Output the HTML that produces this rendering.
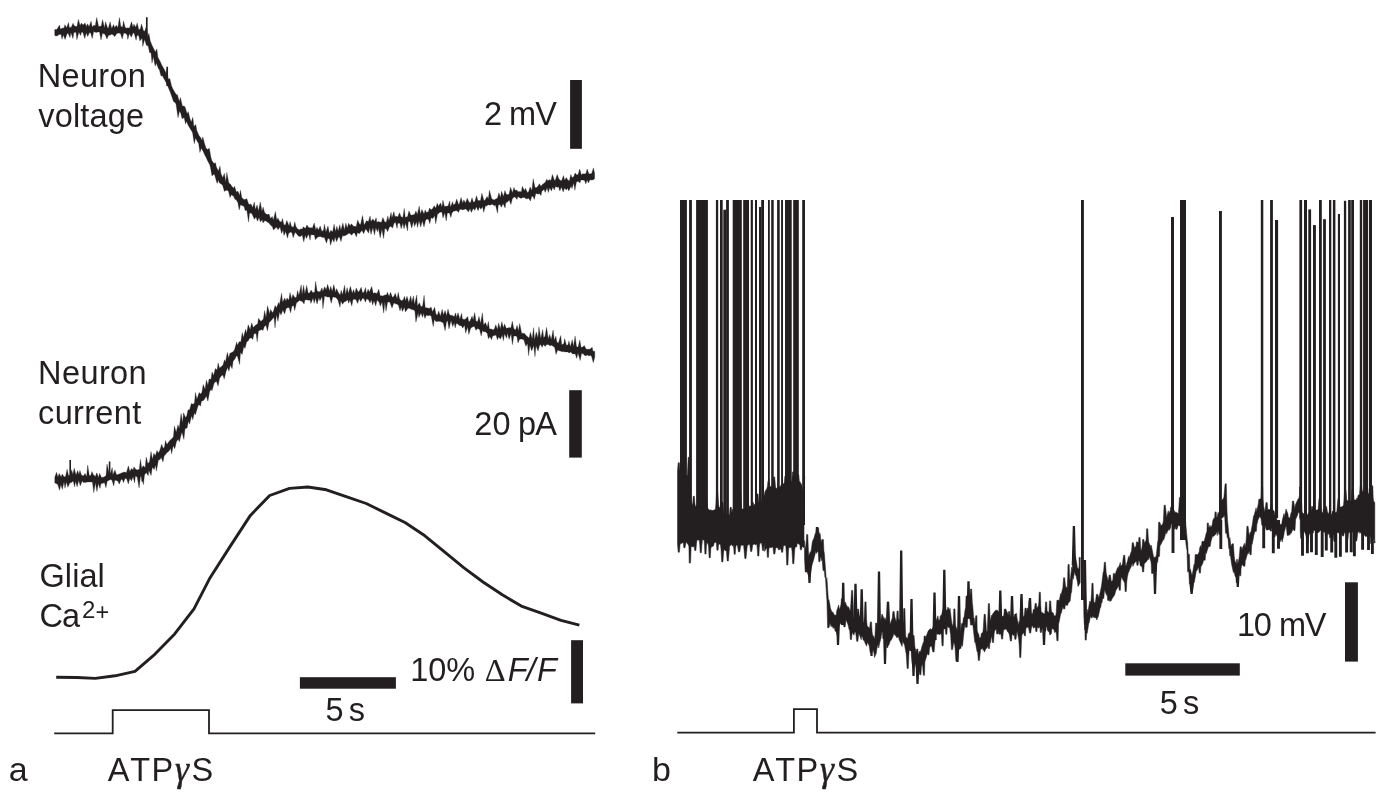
<!DOCTYPE html>
<html><head><meta charset="utf-8"><title>figure</title>
<style>html,body{margin:0;padding:0;background:#fff}svg{display:block;will-change:transform}</style></head>
<body>
<svg width="1399" height="811" viewBox="0 0 1399 811">
<g fill="none" stroke="#231f20" stroke-linejoin="miter" stroke-miterlimit="3">
<path fill="#231f20" stroke-width="0.3" d="M54.7 29.6L56.6 29.4L57.4 28.6L59.6 25.1L60.3 28.9L62.4 28.2L64 27.9L64.9 24.7L66.6 27.7L68.5 22.5L69.3 27.4L71.3 27.2L73 23.2L74.2 25.8L75.9 26.6L77 26.2L78.4 19.4L80.1 25.4L81.4 23.1L83.1 25.1L85.1 22.9L86.3 26.5L87.6 23.8L89 26.7L91.1 21.2L92.2 27L94.1 25.1L95.2 25.9L96.7 17.5L98.6 26.4L99.9 26.2L101.3 26L102.6 19.7L104.5 27.7L105.6 21.7L107.6 28.1L108.3 28.3L110.1 21.8L111.7 28.6L113.6 24.6L114.5 27.5L116.5 25.3L117.9 27.8L119.4 17.5L120.8 26.3L122.6 27.2L123.5 20.8L125.1 27.2L126.4 28.2L127.8 27.7L129.4 28.2L131.6 21.7L133 27.2L133.9 24.2L135.8 27.2L137.2 22.9L138.8 29.7L140.3 29.1L141.5 23.9L143.6 31L144.7 31.2L146.3 26.6L147.8 36.4L148.9 33.3L150.3 41.1L152.1 45.4L153.9 49L155.5 51.9L156.9 48.9L157.9 57.2L160.1 61.3L161.5 64.4L163 67.2L164.2 69.2L166.1 73.2L166.8 69.4L168.3 79.2L169.8 78.4L171.5 85.7L173 89.2L174.4 91.6L176.3 94.8L177.3 94.5L179.3 101.5L180.4 97.4L182.4 106L183.3 106L185 106.7L187.1 113.8L188.2 111.6L190 118.8L191.3 122.1L192.8 117.3L193.9 126.5L195.8 124.5L196.8 130.4L199 135.5L200.6 137.6L202 140.3L202.8 136.8L204.6 143.8L206 147.9L207.4 149.6L209.3 148.2L211 157.7L212 160.8L214 163.5L215.5 162.7L216.4 167.1L218.4 170.9L220 166L220.9 173.4L222.8 177.8L224.3 173.3L225.8 182.1L226.8 172.4L228.8 182.9L230.3 184.1L232 186.6L233.5 188.2L234.5 186.2L236.4 191.9L238 191.2L239.6 195.5L240.4 190.1L241.8 197.4L243.8 199.6L244.9 199.4L246.8 198.7L248.6 204L249.6 204.4L251 203.9L252.7 207.5L254.3 202.1L255.3 209.5L257.1 205.1L258.4 211L260.3 202L262 211.5L263.1 207.1L264.6 212.5L266.2 214L267.4 214.6L269 214.1L270.5 218.5L272.2 216.4L273.3 220.3L275.4 211.4L276.8 220.1L278 218.1L279.3 220.9L281.4 222.3L282.4 218.4L283.9 224.7L285.4 225L286.8 220.4L289.1 226L290 221.5L291.5 226.5L293.5 227.2L294.8 221.7L295.9 226.5L297.6 229L299.5 229.7L300.6 229L302.4 229.1L303.3 226.8L305.4 228.6L306.9 225.1L308.5 227.2L309.9 228L311.1 227.5L312.3 228.2L314.2 223L315.9 229.9L316.9 227.2L318.5 229.9L320.2 226L321.9 231.5L323.6 230L324.4 224.2L325.9 231.9L328 225.9L329.3 233.2L330.9 230.2L332.6 232L334.1 224.2L335.5 231.5L336.9 226.2L338.1 231.2L339.8 224.7L340.9 230.2L342.9 223.1L344.4 229.9L345.9 223.1L347.2 228.3L348.6 223.2L350.1 225.7L351.3 223.8L353.5 226.3L354.7 226.3L356.1 226.7L357.7 220L359.4 224.1L360.6 224.5L362.5 215.5L364.1 224.7L365.1 223.5L366.4 220.8L368.4 221.4L370.1 216L370.9 221.6L372.9 218.9L374.5 221.5L376.1 217.8L376.9 222.5L378.3 221.6L380.6 222.3L381.4 222.3L382.9 217.6L384.8 222.1L386.2 222.2L387.9 215.9L388.9 221.1L391.1 212.4L391.9 218.1L393.9 211.6L394.8 216.4L396.7 216.2L397.8 216.9L399.5 212.8L401 216.7L402.9 217.4L404.2 208.4L405.3 217.5L407.6 216.5L409 210.8L410.6 214.7L411.5 215.3L413.1 214.7L414.5 214.4L415.9 210.9L417.3 214.6L419.2 206L420.4 214.2L421.9 209.5L424 213.9L425.2 209.9L426.4 212.5L428.4 211.7L429.5 208L431.2 209.7L432.5 208.8L434.2 205.8L435.8 208.3L437.2 203.2L438.6 206.2L440.5 202.9L442 207L442.9 200.2L444.4 206.5L445.9 206.2L448.1 206L449.6 200.9L450.5 207.2L452.6 201.7L453.4 204.9L455.2 203.8L456.7 199.1L458.6 204.4L459.3 204L461 197.4L462.8 203.2L463.8 199.8L465.5 202.9L467.2 198.3L469 202L470.4 203L472 197.8L473.4 202.3L474.9 201.5L476.5 195.8L477.9 200.4L479.4 200.5L480.5 200.4L481.9 193.3L483.9 200.6L484.9 200.3L487.1 196.4L488.3 198.9L489.5 190.2L491.6 198.6L492.4 199.2L494.2 199.9L495.3 199.3L497.6 197.9L498.8 192.8L500.5 197.6L501.5 191.3L503.5 196.4L504.9 190.6L506.3 194.3L508.1 194.8L509.1 193.7L510.6 187.2L512.4 192.7L514 187.4L515.1 190.4L516.9 190.1L517.9 191.8L519.7 191.4L521.4 191.8L522.3 186.3L524.4 190.7L525.3 188.2L527.6 192.7L528.7 191.4L530.1 186.9L531.9 190.5L533.2 178.7L534.9 186.9L535.8 188.1L537.8 186.4L539.3 183.8L541.1 186.5L541.8 185L543.7 183.5L545.3 182.2L546.7 179.2L547.8 180.8L549.8 179.5L550.9 180.7L552.4 174.4L554.5 180.5L555.4 179.9L557.2 174.4L558.9 179.1L560.4 180.4L561.7 180.4L563.5 175.6L564.7 180.3L566.3 177.5L568 180.2L569.4 180.7L570.8 174.4L572.1 177.8L573.8 176.6L575.1 173L576.9 174.9L578.1 174.5L579.7 169.1L581.4 174.9L582.7 173.7L584.1 173.9L586 173.6L587.1 169L589 173.9L590.5 173.7L591.7 173.4L593.4 167.9L594.6 173.1L594.6 178.7L593.5 179.7L591.5 180.1L589.9 179.8L588.5 183L587.1 180.1L585.8 184L584.6 180.6L583 180L580.8 179.9L580 183L578.1 181.3L576.4 182L574.9 190.3L573.7 183L572 188.6L571.1 185.9L568.8 190.9L567.4 188L566.4 190L564.5 188.1L563.2 192L561.4 187L559.8 191L558.6 187.1L557.3 187.2L555.4 186.4L554.4 190L552.8 187L551.5 191.1L549.7 187.7L548.3 192.6L547.1 187.8L545.1 192.4L544.1 189.2L541.8 191.5L541 195.6L539.3 193.4L538 194.2L535.9 193.3L534.3 199.5L533.1 196.4L531.8 196.3L530.4 201L528.7 198.3L527.3 198.8L525.9 198.8L524.6 197.4L522.7 197.4L521 198.5L519.3 197.4L517.9 196.6L517 199.5L514.9 196.8L513.6 197.6L512.4 198.6L510.9 204.6L509.3 200L507.5 202.1L505.8 202.7L505.1 208L503 203.5L501.4 207.3L500 204.5L498.3 205L497.5 213.2L495.5 205.1L494.5 205.8L492.7 204.5L491.3 204.4L490.1 205.2L488.2 204.7L486.5 206L485.5 205.7L483.7 212.3L482.6 206.8L480.8 209.3L479.5 207L478.1 210.7L476.3 206.7L474.9 210.2L473.2 208.6L471.3 212.4L470.1 208.5L468.4 212.1L467 210.1L465.7 208.9L463.9 209.4L462.7 209.9L461.1 209.3L459.7 209.6L458.5 212.5L457.1 210.7L455.5 210.8L453.5 211.3L451.9 213L450.9 217.6L449.4 212.9L447.4 212.9L446.2 221L444.8 212.8L443 218.1L441.9 212.1L439.9 212.2L438.4 213.7L437.6 213.7L435.7 223.7L434.6 215.4L432.9 218.5L431.1 217.8L429.8 223.7L428.4 219.2L426.5 219.2L425.5 220.4L424 227L422.3 220.7L420.7 227L419 220.4L417.5 227.4L416.5 221.7L414.5 226.5L413.5 221.3L411.7 228L410 221.6L408.3 221.7L407.5 231.1L405.7 223.1L404 228.8L402.9 223.1L401.2 228.8L399.9 223.3L397.8 223.3L397.1 228.4L395.4 222L394 223.5L392.6 228.1L390.7 226.3L389.3 227.2L387.6 231.7L386.3 228.8L384.8 228.7L383.6 238.6L381.9 229.3L380.2 237.8L378.3 227.7L377.6 231.7L375.8 227.8L374.5 234.9L372.9 227.4L371 234.4L369.7 227.4L368.6 233.2L366.3 229.5L365.4 229.3L363.7 233.7L362 230.4L361.1 231.5L359.3 233.8L357.6 232.6L356.3 236.9L354.7 233L353.4 232.9L351.6 235.3L350 233.5L348.8 233.2L347.1 234.6L345.9 235.2L343.8 236.1L342.5 235.6L341 241.5L339.3 236.7L338.1 237.7L336.6 241.7L335.1 237.1L334 242.3L332.5 238.7L330.5 245.2L329.6 239L327.9 238.3L326.5 243.2L324.3 237.3L323.2 237.5L322 237.2L320.4 236.5L318.6 236.7L317.5 237.2L315.4 239.7L314.2 234.8L313.1 234.9L310.8 234.8L310.1 240.2L308.6 234.1L306.3 238.5L305.2 235.1L303.8 241.9L302.2 235.1L300.5 236.4L299.3 236.4L297.9 235.5L296.1 233.2L295.1 232.3L293.2 237.8L292 232.8L290.5 232.1L288.6 233.4L287.5 238.2L285.7 231.6L284 235.5L282.9 229.8L281.6 233.5L280 227L278 229.8L276.5 227.1L275.6 228L273.3 229.9L272.5 226.7L270.9 225.5L269.1 223.2L267.3 222L265.9 221L264.7 220.7L263 222.9L262.1 219.6L260.4 222.1L259.1 217.6L257.5 221.2L256 217.1L254.4 219.3L252.4 214.8L251.5 213.3L249.5 213L248.6 222.1L246.8 210.2L245.1 210.6L244.1 206.6L242.1 205.6L240.5 204.7L239.2 210L237.9 202.8L236.1 199.6L235 199.4L233.6 196.2L231.4 194.8L230 197.6L228.5 191.2L227.1 190.3L225.5 190.4L224.4 191.5L222.7 185.5L221.3 184.1L219.4 182.9L218.5 180.1L217.1 183.4L214.8 175.4L214 174L212 176L210.3 166.7L209.6 164.5L207.7 160.9L205.9 157L205.1 155.7L203.1 151.2L201.3 148.2L199.9 152.5L198.6 143.3L197.6 142L195.5 137.9L194.3 143.8L192.5 132.4L191.3 130.5L190 128.4L187.8 124.4L186.6 121.2L185.6 124.1L184.1 117.6L182.1 118.8L180.8 113.6L179.6 110.9L178 117.7L176 104.1L175 102.5L173.5 101.5L171.6 96L170.4 92.4L169.1 89.4L166.8 84.1L165.7 81.8L163.8 78.5L162.4 75.8L161 76L159.3 69.6L158.6 68.9L156.3 63.1L155.2 66.2L153.3 56.7L152 63.1L151 52.7L149.6 52.7L148.1 45.8L146.5 45.6L144.6 39.6L142.8 46.4L142.1 38.2L139.8 40.9L138.8 35.7L137.1 35.2L136.1 40.3L134 32.7L132.8 33.6L131.3 37.2L129.4 33.5L127.8 39.4L127.1 34.7L125 33L123.6 33.6L122.2 38.9L120.6 33.7L119.5 33.3L118.1 32.9L116.4 34L114.7 36.7L113.1 34.7L111.5 34.2L110 35.3L108.7 35.1L106.9 39L105.4 34.9L104.5 34.1L102.5 33.3L101 40.1L99.5 32.1L97.9 31.9L96.6 32.4L95.2 32.2L93.7 31.5L92.2 38.5L90.7 32.9L89.5 32.6L87.7 36.6L86.2 32.8L84.8 38.4L82.8 32.3L81.5 32.3L80.5 35.5L78.9 32L76.9 39.8L76 32.2L73.9 32.4L72.9 38.5L70.9 32.5L70 37.6L67.9 33.1L66.8 34.5L65.1 39.5L63.3 34.9L62 39.3L61.1 34.4L59 34.6L57.5 35.8L55.8 36L54.7 35.2Z"/>
<path stroke-width="1.7" d="M146.8 17.2V42M167.2 66.7V86"/>
<path fill="#231f20" stroke-width="0.3" d="M54.8 477.3L56.5 472.2L57.9 476.9L59.2 473.5L61.1 476.9L62.2 474.1L64.2 477L65.6 476.2L67.1 469.2L68.6 475.8L70.2 475.1L71.7 469.7L72.8 474.5L74.2 468.2L76 475L77.7 470.5L78.9 474.6L79.9 470.4L81.4 475.1L83.3 476L85.1 473.4L86.6 476.8L87.7 465.1L89.3 475.5L90.8 475.6L91.9 471.5L93.4 474.8L95.3 476.4L96.8 472.8L98.6 477.6L99.5 473.2L101.6 477.5L102.6 477.4L104.3 476.7L106 475.7L107 464.1L109.2 473.4L110.7 472.8L112.2 467.6L112.9 474.7L114.9 470.1L116.5 474.7L118.1 474.6L119 474L120.5 473.4L122.6 472.5L123.6 472.2L124.9 472.1L126.4 472.7L128.4 465.8L129.8 471.4L131.5 468.4L133.1 469.9L133.9 466.9L136.2 469.7L137.6 469.8L139.2 469.4L140.5 459.3L141.7 468.4L143.1 465.7L145.2 467.5L146.2 457L147.8 463.5L149.5 462L151 451.5L152.5 459.3L153.9 453.3L155.3 455.8L157 450.4L158.2 452.9L159.6 450.9L161.7 444.3L163.1 448.2L164.5 447.1L165.5 440.6L166.9 444.6L169.2 441.3L170.7 439.6L171.6 439L173.4 436.7L174.4 425.9L176.2 432.2L178 424.8L179.2 428.6L181.1 413.5L182.7 422.7L183.5 412.8L185.5 417.6L186.7 415.9L188 410L189.7 409.5L191.3 403.6L193.2 404.3L194.5 402.7L195.4 392.4L196.9 399.2L199.2 392.4L200.4 393.9L201.9 392.5L203.2 384.5L205.1 389.2L206.4 380.1L207.9 385.2L209.1 379.1L211 379.2L212 371.9L213.5 375.5L215.4 368.5L217.1 369.9L218.1 362.9L219.6 368.2L221 366.8L222.9 365.3L224.5 359.7L225.5 362L227.3 352.4L228.8 358L229.9 353.3L231.8 352.4L233.1 351.8L234.5 349.7L236.7 342L237.4 345.3L239.2 341.7L240.9 341.7L242.2 332.6L243.4 337.5L245.6 329.3L246.6 333.4L248.2 324.7L250.2 329.5L251.7 322.8L253.2 327.6L254.2 326.4L256 324.8L257.6 323.9L258.5 318.3L260.7 321.3L261.4 321L263.4 319L264.6 310.6L266 317.6L267.5 305.7L269.7 314L270.5 309.4L272.7 312.7L273.5 311.1L275.1 305.5L276.5 307.7L278.7 302.3L279.4 304.9L281.6 293.2L282.6 302.2L284.7 297.9L286 301.1L287.1 297.9L288.8 300.3L290 292.5L291.7 299L292.9 294.5L295 297.8L296.4 297.3L297.6 290.6L298.9 295.5L301.2 284.8L302 294.8L303.6 285.2L304.9 294L306.7 285.4L308.2 293.3L309.8 292.7L311.1 290L312.6 292.5L314.6 292.3L315.6 281.3L317.1 291L318.8 291.7L320.1 291.7L322 287.8L322.9 291.6L324.6 286.7L326.2 289.8L327.6 284.3L329.6 291L330.7 286.2L332.2 291.6L333.8 284.6L335.6 292.5L336.5 288.6L338.6 293.1L340.2 294.9L341.1 290.2L342.5 294.8L344.6 285.2L345.6 294.7L347.1 287.6L348.4 293.6L350.4 286.3L352.2 293.3L353.6 289.5L354.9 293.6L356.2 287.9L358.2 292.1L359.4 291.1L361.2 287.2L362.5 292.8L364 292.2L365.5 287.5L366.5 293.7L368.1 289.2L369.4 292L371.7 286.5L373.2 293.6L374.4 292.8L375.5 293L377 293.4L378.8 289.2L380.2 295.8L381.5 295.8L382.9 295.9L384.9 295L386.6 294.7L387.4 292.3L389.1 296.3L390.6 292.3L392.3 297.3L393.9 296.6L395.2 293.2L397.1 298.8L398.2 292.3L399.6 299.1L401.5 300.8L403.1 299.9L404.6 296.3L405.5 300.9L407 296.3L408.8 302.6L410.7 295.9L411.9 302.2L413.4 295.8L414.6 304.4L416.7 295L417.5 306L419.4 302.7L421 306.8L422.6 306L424.1 295.3L425.2 307.8L426.6 307.8L428.7 308.3L429.8 308.3L431.1 306.9L432.5 311.8L434.6 307.3L436.1 314.4L437.4 315.1L438.7 310.9L440.4 316.2L442.2 309.3L443.4 314.9L445.1 310.5L446.6 315.7L448 309.1L449.3 314.2L450.5 315.3L452.5 315.4L454.1 316.8L455.7 312.8L456.5 317.6L458 312.7L459.9 319.2L461.6 313.2L462.4 318.9L464.4 319.6L465.6 318.9L467.7 316.5L468.7 321.6L469.9 321.2L472.1 316.1L473.1 320L474.7 312.6L476 321.2L477.6 321.6L479 316.4L480.6 323.4L482.4 312.8L483.6 325L485.5 322.5L487.2 327L488.4 321.5L489.4 329.1L491.7 328.9L492.5 329.9L494.2 329.3L495.8 324.7L497.4 329.5L498.7 322.9L500.2 329L501.9 321.7L503.3 328L504.6 323.9L506.2 328.3L507.7 328.1L509.1 327.5L510.9 327.9L512.3 321.2L513.7 328.3L515.5 330.2L517.1 325.3L518.4 331L519.7 323.4L521.7 333.5L522.4 333.2L524.6 333.4L525.7 334.9L527.2 336.5L529.1 338L530.4 332.2L532.2 338.7L533.6 327.6L534.5 339.7L536.3 332L538 338L538.9 326.9L540.8 338.4L542.7 329.6L543.6 337.4L545 336.5L546.6 327.3L548.2 339L549.6 334.5L551.2 339.5L553.1 330L554.3 340.3L555.9 336.2L556.9 342.3L558.4 342.9L560.7 335.5L561.7 344.5L563.7 344L564.7 338.6L566.4 345.2L567.9 344.9L568.9 340.9L570.4 346.7L572.2 339.7L573.5 346.5L575.1 335.9L576.5 346.6L578.1 347.2L579.8 340L581.1 347.5L582.7 347L584.3 345.6L586 348.9L586.9 349.3L589.2 349.2L590.2 348.9L592.2 347.3L592.9 351.1L594.8 351.4L594.8 357L593.3 362.7L591.7 356.8L590.6 355.3L589.1 355.9L587.5 355.1L585.8 355.7L584.4 355.3L583.2 353.8L581.5 353.6L580.2 360.6L578 352.9L576.7 358.4L575.2 353.7L574.2 353.9L572.7 353.9L570.6 352.1L569.2 353.1L567.7 352L566.6 351.9L565 351.9L563.5 351.4L562 351.8L560.4 351.1L559.1 350.7L557.7 350L556 354.4L554.7 347.6L552.8 346L551.5 345.3L550.1 345.7L548.1 344.6L546.7 344.5L545.2 346.5L543.5 344.4L542.1 347.3L540.6 344.5L539.5 345.6L538.1 351.1L536 345.7L535 356.8L533.7 345.6L531.7 350.9L529.9 345.3L528.6 355.7L527.5 343.5L525.8 346.2L523.9 340.1L523.1 339.5L521.6 339L519.6 339.2L518 343L516.9 336.4L515.6 336.1L513.7 336.1L512.4 344.7L511.1 333.7L509.1 339.3L507.4 333L506.7 338.3L504.5 333.8L503.4 340.7L502.2 335.1L500.5 339L498.4 337L497.5 339.9L496 335.1L494.4 335.6L492.6 336L491.6 339.7L489.9 336.5L488.4 338.8L487.2 333.2L484.9 331.4L483.9 332.1L482.5 330.5L481.2 336.1L479.6 329.5L477.7 328.6L475.9 330.3L474.4 326.6L473.5 326.5L471.9 327.2L470.6 328.6L468.8 334.5L467.7 327.1L465.6 333.1L464.6 325.3L462.6 328.2L461.7 325.9L459.4 325.4L458.1 324.3L456.4 323.2L455.2 327.9L454.2 322.7L452.7 326.6L451 320.6L449 328.9L447.6 320.8L446.5 321.8L445.1 330.7L443.2 322.4L442.2 322.6L440.7 321.5L438.6 321.3L437 321.5L435.9 321.4L434.4 319.4L433.2 326.6L431.3 316.4L430 315.3L427.9 315.8L426.4 315L424.9 318.4L423.6 313.2L422.6 317.3L421 313.1L418.9 317.6L418.2 312.7L415.9 322.2L414.9 311L413 309.6L412.2 309.8L409.9 308.6L408.5 308.2L407.6 308.8L405.4 312L404.4 307.3L402.4 311.5L401.2 307L400 310.9L398.5 305.3L397.1 304.2L395.6 303.8L393.9 303L392 308L390.4 303.7L389.7 302.1L387.6 302L386 311.3L384.9 301.8L383.7 313.1L382 301.9L380.3 306.2L379.1 302.3L377.1 300.1L375.7 305.9L374 300.4L372.6 305.1L371.3 299.5L370 302.9L368.5 299.7L366.6 298.8L365.5 302.2L364.1 299L362.7 298.1L360.7 301.6L359.1 298.4L357.7 303.5L355.9 299.6L354.4 299.3L353 299.4L351.8 305.9L349.9 299.7L348.7 303.3L347.6 299.8L345.7 301.4L344.7 301.4L342.4 304.3L340.9 300.7L340 307.3L338.1 300.4L336.7 298.2L335.6 297.4L333.5 296.9L332.7 297.2L331.2 303.3L329.7 296.9L327.4 297.1L326.1 296.5L324.6 296L322.9 308.7L322.1 296.6L319.9 300.8L318.9 297.6L317.1 304.1L315.4 298L314.2 303.3L313 298L310.9 303.4L310.1 300.1L308.4 300.2L306.7 299.7L304.9 300L304.1 303.9L301.9 301.1L301 301.2L299.5 300.3L297.8 302.1L296.5 302.8L294.7 310.6L293.6 305.6L291.9 306.2L290.6 312.8L289.1 307.4L287.3 307.8L286.1 308.8L284.6 314L282.9 310.1L281 315.1L279.6 312.1L278 321.2L276.4 314.8L275 328L274 317.3L272 319.5L270.5 321.3L269.1 322.6L267.4 330.9L266.1 325.5L264.6 326.1L262.9 330.6L261.7 329.4L260.6 330.1L258.4 331L257.2 341.8L256.1 333.4L254 333.8L252.8 339.5L251.4 337.7L249.4 338.5L248.2 340.9L246.7 341.7L245 348.4L243.8 346.5L242.2 354.5L240.5 352.5L239.6 364.5L237.4 356L236 356.3L235.2 358.5L233.1 361.2L232.1 368.7L230.4 365.1L228.9 371.3L227.7 367.5L226.1 371.3L224.2 379.1L222.9 374.9L221.5 375.7L219.6 378.2L218.1 386L216.4 381.3L215 382.3L214.1 383.3L212 390.8L211.2 389.3L209.6 391.7L207.9 401.2L206.3 396.1L204.7 398.8L203.5 400.4L201.4 401.3L200.6 406.1L198.8 404.6L197.7 407.1L195.4 414.8L194.3 413.1L192.8 419.8L191.6 415.7L189.5 424.2L188.4 421.1L187.1 428L185 428.8L183.9 439.4L182 432.3L181.1 435L179.4 441.8L178.2 439.3L176.5 441.4L174.8 448.7L173.2 445.8L171.6 453.9L170.7 448.4L168.6 451.4L167.1 452.5L165.5 454.6L164.1 456.1L163 461.9L161.1 457.3L160.1 459.6L158.4 459.9L156.4 471.2L155.6 465.1L154.2 469.5L152.3 467.3L151.1 475.5L148.9 470.3L148.2 475.7L146.3 472.6L144.5 474.9L143.4 484.7L141.4 476.6L140.5 476.5L139.1 488.1L137.2 476.9L135.4 476L134.6 483L133.1 476.8L131.4 480.9L129.9 478.3L128.3 484.1L126.7 478.7L125 478.5L123.4 482.7L122.6 479.9L121.2 479.3L119.3 484.2L118.1 481.5L116.6 480.5L114.8 480.2L113.7 486.1L112.1 480.5L110.7 479.2L108.4 480.7L107.2 481L106 487.8L104.4 482.6L103 483.2L101 483.6L100 488.4L98.4 483.4L96.9 491.5L95.4 482.8L93.8 492.7L92.4 482L90.4 481.9L89.3 481.9L87.6 482.1L86.4 482.3L84.6 482.6L83.4 482.4L82.2 480.9L80.3 485.8L78.7 480.4L77.2 486.8L75.5 481.3L74.7 486.9L73.1 480.9L71.2 482.7L69.9 482.8L67.9 487.3L66.4 482.1L65 488.3L64 481.8L62.3 489.4L60.9 484.6L59.5 490.3L57.8 484.6L56.1 483.6L54.8 482.9Z"/>
<path stroke-width="1.6" d="M70.2 460V480M109.6 461.5V480M142.3 470V481.6"/>
<path stroke-width="2.9" stroke-linejoin="round" d="M56.2 677.3L76.9 677.5L95.3 678.4L115.1 675.8L135 671.3L154.8 654.3L174.7 633.9L194 608.9L210.1 577.7L230 546.6L250.4 515.4L269.7 495.5L289.5 488.4L307.9 487L326.4 489.8L346.9 496.9L366.2 503.5L385.8 513.1L405 522.5L424.9 535.8L444.8 552.2L464 567.8L483 582L502.3 594.8L521.3 606.1L541.2 613.2L561 620.3L579.4 625.1"/>
<path stroke-width="1.8" d="M54.2 733.4H112.7V710.1H209V733.4H595.2"/>
<path stroke-width="1.8" d="M677.3 732.7H793.9V709.2H817V732.7H1375.6"/>
</g>
<g fill="#231f20">
<rect x="570.1" y="80" width="11.8" height="68.8"/>
<rect x="569.2" y="390.2" width="12.6" height="67.4"/>
<rect x="571.1" y="640.2" width="11.9" height="63.2"/>
<rect x="299.9" y="677.2" width="96" height="11.5"/>
<rect x="1345" y="582.3" width="12.9" height="79.3"/>
<rect x="1125.3" y="663.3" width="114.5" height="12.3"/>
</g>
<g fill="#231f20">
<rect x="680" y="200" width="6.9" height="325"/>
<rect x="689.1" y="200" width="2.8" height="325"/>
<rect x="696.1" y="200" width="11.8" height="325"/>
<rect x="715.9" y="200" width="2.3" height="325"/>
<rect x="720" y="200" width="2.7" height="325"/>
<rect x="723.3" y="209.7" width="2.9" height="315.3"/>
<rect x="726.1" y="200" width="2.8" height="325"/>
<rect x="732.7" y="200" width="9.1" height="325"/>
<rect x="743.2" y="200" width="5.8" height="325"/>
<rect x="750.7" y="200" width="2.2" height="325"/>
<rect x="755" y="200" width="2" height="325"/>
<rect x="759" y="207" width="2.3" height="318"/>
<rect x="761.2" y="200" width="2.8" height="325"/>
<rect x="768" y="200" width="1.8" height="325"/>
<rect x="771.2" y="200" width="2.5" height="325"/>
<rect x="777.1" y="200" width="2.6" height="325"/>
<rect x="781.1" y="200" width="1.9" height="325"/>
<rect x="785" y="200" width="6.7" height="325"/>
<rect x="793.2" y="200" width="5.6" height="325"/>
<rect x="802.2" y="200" width="2.8" height="325"/>
<rect x="1081" y="200" width="2.9" height="400"/>
<rect x="1171" y="217" width="3" height="301"/>
<rect x="1180" y="200" width="6" height="340"/>
<rect x="1219" y="211" width="2.9" height="307"/>
<rect x="1260.8" y="200" width="2.5" height="318"/>
<rect x="1270.1" y="200" width="2.8" height="318"/>
<rect x="1275" y="220" width="3.1" height="298"/>
<rect x="1299.4" y="200" width="2.7" height="318"/>
<rect x="1304" y="200" width="3" height="318"/>
<rect x="1308.3" y="209.4" width="2.8" height="308.6"/>
<rect x="1313" y="225.1" width="2.9" height="292.9"/>
<rect x="1319" y="200" width="2.8" height="318"/>
<rect x="1323.1" y="219.2" width="2.8" height="298.8"/>
<rect x="1329" y="200" width="2.3" height="318"/>
<rect x="1332.9" y="200" width="2.5" height="318"/>
<rect x="1337.9" y="214" width="2.1" height="304"/>
<rect x="1343.9" y="200.8" width="2.3" height="317.2"/>
<rect x="1348.1" y="200" width="2.7" height="318"/>
<rect x="1351.2" y="200" width="2.8" height="318"/>
<rect x="1359.8" y="200" width="2.4" height="318"/>
<rect x="1363.1" y="200" width="5" height="318"/>
<rect x="1369" y="200" width="3" height="318"/>
</g>
<g fill="none" stroke="#231f20" stroke-linejoin="miter" stroke-miterlimit="2">
<path fill="#231f20" stroke-width="0.5" d="M677.5 470.6L678.2 462.7L679.4 462.7L680 470.9L680.5 470.9L681.6 469.9L682.1 471.2L682.5 465.6L683.7 465.6L684.2 471.8L684.6 473.8L687.3 475.5L687.7 467.7L688.2 457.2L689.4 457.2L690 479.1L690.4 498.9L692.3 504.3L692.7 504.7L693.2 496.3L694.4 496.3L694.9 503.2L695.4 506.5L697.1 505.3L697.6 504.6L698.2 499.2L699.4 499.2L700 505.1L700.4 507L701.9 508L702.4 504.7L704.8 505.2L705.2 507.1L705.9 502.3L707.1 502.3L707.7 508.4L708.1 508.6L709.6 510.2L710.1 509.9L711.4 509.9L711.9 510.8L713.3 510.1L713.8 510.2L715.5 509.2L715.9 503.8L716.6 492.5L717.8 492.5L718.5 503.8L719 506.9L720.6 507.9L721 508.5L721.7 502.2L722.9 502.2L723.5 511.1L723.9 513.5L726.6 515.1L727.1 514.7L729 514.7L729.4 515L730.1 507.3L731.3 507.3L732 512.9L732.4 509.6L733.6 508.4L734.1 511.3L736.2 510.9L736.7 505.9L738.5 505.6L739 503.2L739.6 491.4L740.8 491.4L741.3 503.2L741.8 509.1L743.9 509.1L744.4 510.4L746.3 510.2L746.7 505.8L747.1 498.6L748.3 498.6L748.6 504.5L749.1 506.3L751.1 506L751.6 506L752.1 502.5L753.3 502.5L753.9 505.7L754.3 504.6L755.7 503.8L756.2 502.1L756.9 493.9L758.1 493.9L758.7 500.9L759.2 503.9L761.5 503.1L762 498.4L764.4 495.1L764.9 491.8L767 488.3L767.5 485.7L768 480.7L769.2 480.7L769.8 486.2L770.2 486.8L772.4 485.9L772.9 483.9L773.5 476.9L774.7 476.9L775.3 484.3L775.7 487.9L777.8 488.8L778.3 487.1L780.7 486.2L781.2 484.6L783.7 483.7L784.2 483L784.9 475.9L786.1 475.9L786.8 482.9L787.2 484.2L789.6 482.6L790.1 481.3L791.3 482L791.8 480.6L792.5 471.9L793.7 471.9L794.3 480.2L794.8 481.4L796.5 481.2L797 481.2L797.6 474.8L798.8 474.8L799.4 482.2L799.8 481.5L801.8 484.9L802.3 489.2L803.9 490.6L804.4 487.5L803.6 476.6L804.8 476.6L804.1 487.6L804 547.7L802.3 546.4L801.9 547.8L801.5 549.8L800.3 549.8L799.8 544.4L799.4 544.4L797.2 543.3L796.7 546.9L795.2 547L794.7 550.2L793.9 563.7L792.7 563.7L792 550.8L791.5 547.6L788.9 547.5L788.5 550.7L787.9 565L786.7 565L786.2 551.7L785.7 545.5L783.8 545.6L783.4 546.5L782.7 552.3L781.5 552.3L780.8 547.7L780.4 549.2L778.5 549.9L778 548.1L776.1 547.4L775.7 548L774.9 554L773.7 554L773 547.4L772.6 547.1L770.9 547.8L770.4 547.4L769.4 547.6L768.9 549.3L768.5 557.3L767.3 557.3L766.9 549.1L766.5 547.7L764.6 551.4L764.1 543.8L763.7 550.6L762.5 550.6L762.1 546.7L761.6 542.8L759.8 543.5L759.3 547.5L758.9 556L757.7 556L757.2 548.2L756.8 543.9L755.3 545L754.8 543.9L752.8 544.7L752.4 547.2L751.8 551.6L750.6 551.6L750 546.6L749.5 543.9L747.3 545.8L746.8 550.4L746 558.6L744.8 558.6L744.1 550.6L743.6 545.3L740.9 545.2L740.5 547.6L739.7 551.9L738.5 551.9L737.8 547.8L737.3 545L736.1 545.2L735.6 548.5L735.3 554.2L734.1 554.2L733.8 549L733.3 545.1L732.2 546.3L731.7 544.3L729.6 546.2L729.2 551.2L728.4 561L727.2 561L726.4 551.2L725.9 550.9L724.1 549.5L723.6 552.4L722.9 561.9L721.7 561.9L721 549.5L720.5 544.8L718.9 543.8L718.5 545.3L718.1 550.2L716.9 550.2L716.5 545.2L716.1 542L714.1 542.9L713.6 545.9L711.3 546.9L710.8 548.8L710.3 557.8L709.1 557.8L708.6 547.4L708.1 543.8L706.9 542.8L706.4 546.4L706.1 554.1L704.9 554.1L704.5 545.6L704.1 540.1L702.4 539.7L701.9 545.2L701.4 552.7L700.2 552.7L699.7 544L699.2 540.1L697 540L696.5 543.6L695.9 550.6L694.7 550.6L694.1 545.3L693.6 547L691.1 546.5L690.7 560.3L690.4 563.1L689.2 563.1L688.9 546.7L688.4 544.9L686.1 542.1L685.7 543.9L685 547.8L683.8 547.8L683.2 542.2L682.8 542.7L680.6 543.8L680.1 544.6L679.4 552.2L678.2 552.2L677.5 544.4Z"/>
<path fill="#231f20" stroke-width="0.5" d="M804.5 540.6L805.7 550L806.1 543.5L806.6 534.6L807.8 534.6L808.4 550.7L808.8 555.7L810.4 551.6L810.9 552.8L811.7 546.7L812.2 542.8L813.1 539.5L813.6 539.3L815.2 533.6L815.7 534.4L816.4 530.7L816.8 533.5L817.4 527.8L818.6 527.8L819.2 535.5L819.7 532.8L820.3 534.4L820.8 539.7L821.3 542.5L821.7 539.8L822.2 539.5L823.4 539.5L823.9 550.7L824.4 553.7L826.4 581.3L826.9 577.8L828.4 600.3L828.9 599.6L829.9 604.6L830.4 608.1L832.1 612.4L832.6 611.8L834.6 615.3L835.1 615.3L836.2 615.1L836.7 611L838.7 604.9L839.2 609.7L840.5 606.5L841 604L841.4 598.6L842.6 598.6L843.1 605.3L843.5 604.2L845.5 602L846 604.3L848 607.6L848.5 606.7L850.3 611.3L850.8 603.9L851.5 590.4L852.7 590.4L853.4 608.8L853.8 617.9L855 618.3L855.5 615.1L856.4 614.4L856.9 615.5L857.5 609.1L858.7 609.1L859.3 615.5L859.8 615.8L860.8 620L861.3 622.8L862.2 624.8L862.7 622.2L863.8 622.5L864.3 615.5L864.9 601.9L866.1 601.9L866.6 619.3L867.1 625.4L868.2 627.4L868.7 627L869.3 628.3L869.7 627.8L870.3 621.9L871.5 621.9L872.1 631.7L872.5 634.5L874.5 639L875 634.7L875.6 623L876.8 623L877.4 628L877.8 629.5L879.8 621.7L880.3 622.9L881.9 614.1L882.4 614.6L884.4 620L884.9 617.5L886.3 621.1L886.7 615.7L887.4 601.8L888.6 601.8L889.3 616.2L889.8 625.1L891.7 619.6L892.2 618.5L892.9 611.6L894.1 611.6L894.8 616.9L895.2 618.3L896.2 621.9L896.6 618.5L897 611L898.2 611L898.5 618.7L899 619L900.7 622.7L901.2 622.7L902.8 625.9L903.2 621.1L903.7 608.5L904.9 608.5L905.4 628.7L905.8 636.9L907.7 638.4L908.2 634.4L909.1 632.8L909.6 633L910.2 632.6L910.7 637.3L911.7 636.9L912.2 634.1L912.9 635.6L914.1 635.6L914.9 647L915.4 648.9L915.9 652.4L916.4 650.6L916.7 649L917.9 649L918.2 655.2L918.7 653.2L919.3 651.1L919.8 653.1L921.3 649.2L921.8 646.9L923.3 642.3L923.7 644.3L924.1 635.9L925.3 635.9L925.7 637.9L926.2 636.3L928.2 631.1L928.7 630.2L930.5 628.5L931 629.9L932.6 628.2L933.1 627.1L933.7 625.4L934.2 627.4L935.5 621.6L936 620.7L938 615.8L938.5 620.2L939.7 619.9L940.2 616.2L941.7 614.4L942.2 612.3L943.4 607.5L943.8 609.6L944.2 601.8L945.4 601.8L945.8 608.1L946.2 610.8L947.4 609.3L947.9 607.1L949.5 610.2L950 608.2L951.3 618.9L951.8 623.1L953 626.5L953.4 619.5L953.8 608.9L955 608.9L955.5 624.1L955.9 626.5L957.6 630.8L958.1 634.5L958.6 634.2L959.1 634.5L960.3 633.1L960.7 632.1L961.5 623.6L962.7 623.6L963.4 617.6L963.9 618.4L965.1 609.6L965.6 607.5L966 596L967.2 596L967.6 600.4L968.1 602.5L969.4 599.8L969.9 596.8L970.5 589.1L971.7 589.1L972.3 602.6L972.8 606.6L973.7 618L974.2 618L974.9 624.7L975.3 620L975.7 615.7L976.9 615.7L977.2 630L977.6 632.1L978.9 634.7L979.4 638.2L980.8 637.3L981.3 633.6L982.9 632.3L983.3 628L984.1 614.2L985.3 614.2L986.1 624.7L986.5 631.8L987.3 630.7L987.7 620.9L988.3 603.6L989.5 603.6L990 616.6L990.5 621.4L991.4 615.2L991.9 615.7L993.1 613.3L993.6 612.8L994.9 610.9L995.4 610.4L997.1 610L997.6 610.4L998.8 611.9L999.3 613.1L999.7 605L1000.9 605L1001.3 612.3L1001.7 617.1L1003.8 615.4L1004.3 609L1005.7 608.9L1006.2 610.1L1007.7 613.3L1008.2 615.4L1008.5 611.5L1009.7 611.5L1010.1 616L1010.5 617.1L1012.4 616.1L1012.9 616.5L1014 617.5L1014.5 614.5L1016.5 613.3L1017 617.8L1018.5 625.2L1019 621.3L1019.7 623L1020.2 617.6L1020.7 598.4L1021.9 598.4L1022.4 610.1L1022.8 617.5L1023.9 616L1024.3 615.3L1025 608.1L1026.2 608.1L1026.9 611.6L1027.4 608L1028 608.2L1028.5 609.2L1028.9 600.7L1030.1 600.7L1030.5 608.8L1031 614.1L1032.7 613.6L1033.2 609.7L1033.9 609L1034.4 609.7L1035.1 603.4L1036.3 603.4L1036.9 608.2L1037.4 607.3L1038.3 605.9L1038.8 602.8L1039.2 592.2L1040.4 592.2L1040.8 605.6L1041.2 612.1L1043.2 613.1L1043.7 613.8L1044.7 614L1045.1 609.2L1045.5 601.9L1046.7 601.9L1047.1 610.7L1047.5 611.2L1048.5 613.1L1049 611.2L1049.5 600.9L1050.7 600.9L1051.3 610L1051.8 612.3L1053.4 613L1053.9 615.8L1055.7 615.7L1056.2 612.8L1056.9 600.3L1058.1 600.3L1058.8 600.1L1059.2 601L1060.6 593.5L1061.1 594.8L1062.4 589.4L1062.9 587.5L1063.5 577.8L1064.7 577.8L1065.4 584.7L1065.9 587.2L1067.2 587.8L1067.6 579.7L1068 564.4L1069.2 564.4L1069.6 577.6L1070.1 580.9L1071.7 567.2L1072.2 569.4L1072.9 550.6L1074.1 550.6L1074.8 556.4L1075.3 555.8L1076.8 563.6L1077.3 567.6L1078.6 569.2L1079.1 565.7L1079.1 557.4L1080.3 557.4L1080.3 562.8L1080.2 581.6L1080.3 582L1079.8 583.4L1078 586.6L1077.5 582.4L1075.9 574.9L1075.4 575.3L1074.7 571.6L1074.2 574L1073.2 579.2L1072.7 577.5L1071.6 592.2L1071.1 593.1L1070.1 601.3L1069.6 601.5L1068.1 603.4L1067.6 605.4L1065.9 605.1L1065.5 604L1064.8 609L1063.6 609L1062.9 606.7L1062.5 608.3L1061.2 613.4L1060.7 613.8L1059 622.6L1058.6 624L1058.1 640.8L1056.9 640.8L1056.4 635.3L1056 631.7L1054.5 632.4L1054 629.6L1051.9 628.5L1051.4 633.6L1049.8 635.2L1049.3 632.6L1047.3 630.2L1046.8 627.1L1046.2 626.4L1045.7 631.2L1043.9 630.4L1043.4 627.9L1042.5 628.1L1042.1 628.9L1041.5 632.4L1040.3 632.4L1039.8 625.5L1039.4 627.8L1037.9 628L1037.4 625.7L1037 631.6L1035.8 631.6L1035.3 627.4L1034.9 627.3L1033.4 628.2L1032.9 626.1L1031.8 626.4L1031.4 628.3L1030.7 633.1L1029.5 633.1L1028.8 629.1L1028.3 627.3L1026.3 627.5L1025.8 629.4L1025.5 635.8L1024.3 635.8L1023.9 632.9L1023.5 632.8L1021.9 635.1L1021.5 640L1020.9 657.4L1019.7 657.4L1019.2 645.5L1018.7 639.3L1017.1 631.1L1016.7 633.4L1016 639.3L1014.8 639.3L1014.2 634.2L1013.8 635.5L1012.7 634.6L1012.2 633.8L1011.5 640.9L1010.3 640.9L1009.6 635.9L1009.1 633.9L1008.2 632.3L1007.7 631.9L1006.1 628.8L1005.6 629.3L1003.8 629.8L1003.3 631.7L1002.7 639.1L1001.5 639.1L1000.9 633.4L1000.5 634.2L998.8 634.2L998.4 631.5L997.9 634L996.7 634L996.3 629.8L995.8 629.3L994.6 631.2L994.1 634L993.6 642.5L992.4 642.5L991.9 637.4L991.4 636.7L990.4 643.1L989.9 641.6L989.6 648.6L988.4 648.6L988 645.5L987.6 647.1L985.5 649.5L985 650.9L984.4 652.2L983.9 649.4L983.1 650.5L982.6 648.2L980.7 649.4L980.2 653.1L979.5 660.4L978.3 660.4L977.6 651.2L977.1 651.9L975.3 641.7L974.8 642.5L972.9 625.7L972.5 624.7L971.7 625L970.5 625L969.8 618L969.4 615.6L968.2 618.1L967.7 619.5L967.2 627.3L966 627.3L965.4 627.3L965 624.3L964 631.6L963.5 635.9L962.5 646.4L962 643.8L960.7 648.8L960.2 648.6L958.3 650.3L957.8 654.5L957.1 661.2L955.9 661.2L955.1 648.5L954.7 644.8L953.8 642.3L953.4 644.7L952.6 649.6L951.4 649.6L950.6 633.9L950.2 632.4L949.6 626.7L949.1 628.1L947.9 626.8L947.4 626.2L946.9 634.3L945.7 634.3L945.2 627.6L944.8 624.4L944.1 625.5L943.6 631.8L943.2 645.8L942 645.8L941.6 637.8L941.2 633.4L939.2 634.7L938.7 634L937.2 634.3L936.7 632.3L935.3 639.4L934.9 642.7L934.1 652L932.9 652L932.1 649.2L931.6 646.1L930 646.5L929.5 648.9L929 654.8L927.8 654.8L927.3 652.7L926.8 655.4L925.4 660.3L924.9 661.7L924.5 675.3L923.3 675.3L922.8 668.1L922.4 663.4L921.8 665.8L921.4 667.1L920.9 674.8L919.7 674.8L919.2 672L918.8 669.3L917.1 667.4L916.6 669.1L915.5 664.4L915 663.6L914.5 660L914 663.4L913.3 663.7L912.1 663.7L911.4 653.7L911 648.7L909.2 649.8L908.8 656.4L908.3 668.4L907.1 668.4L906.6 659.8L906.2 654L904.5 644.7L904 644L902.6 641.3L902.1 646.4L900.4 642.8L899.9 641.6L899 639.3L898.5 636.8L897.3 637.3L896.8 637.9L895.9 635.4L895.4 635.8L893.7 633.6L893.2 636.1L891.1 640.5L890.6 640.1L888.7 645.5L888.3 644.1L887.9 647.5L886.7 647.5L886.3 640.4L885.8 642L884.9 639.3L884.4 637.2L884 638.7L882.8 638.7L882.4 631.7L882 631.9L880.4 640.5L879.9 642L878.7 648L878.2 643.9L876.8 649L876.3 653.2L874.5 657.5L874 653.2L872.5 648.2L872.1 650.9L871.3 652.6L870.1 652.6L869.3 646.6L868.9 645.1L868.3 643.8L867.8 643.6L867.2 642.2L866.7 646.2L865 643L864.5 640.9L863.1 639.9L862.6 637.2L861.7 636L861.2 639.7L859.1 633.8L858.7 634.1L857.9 641.3L856.7 641.3L856 635.3L855.6 631.9L854.5 632.6L854 635.2L852.5 632.6L852 634.3L851.5 639.6L850.3 639.6L849.7 630.1L849.2 629.9L848.3 625.7L847.8 624.1L846.3 620.8L845.9 619.6L845.1 627L843.9 627L843.1 622.2L842.6 624.8L841 623.9L840.5 622.9L839.3 625.7L838.9 625.3L838.2 635.1L837 635.1L836.3 631.8L835.9 631.2L835.1 631.3L834.6 628.4L833.7 626.9L833.2 628.5L831.7 625.1L831.2 626.8L829.9 623L829.5 626.1L828.8 627.8L827.6 627.8L826.9 600.3L826.5 595.4L825.4 576.1L825 577.6L824.2 570.6L823 570.6L822.2 559.5L821.8 560.9L821 556.9L820.6 556.9L820 561.7L818.8 561.7L818.2 552.2L817.8 551L816.3 553.5L815.8 550.9L814.8 555.4L814.3 557L813.6 559.9L813.1 561.4L812.2 564.6L811.7 566.4L810.5 573.9L810 570.4L809.2 573.7L808.7 576.3L807.5 572.9L807 571.8L806.4 572.1L805.2 572.1L804.5 557.8Z"/>
<path stroke-width="2.3" d="M842.2 625L843.2 582.7L844.2 625M854.5 628L855.5 583.9L856.5 628M860.7 632L861.7 589.3L862.7 632M878 638.7L879 571.5L880 638.7M900.2 633.8L901.2 550.6L902.2 633.8M933.5 640L934.5 592.5L935.5 640M943.3 629L944.3 569.8L945.3 629M967.5 618.8L968.5 581.4L969.5 618.8M999.3 630.2L1000.3 590.5L1001.3 630.2M1020.5 626.8L1021.5 594L1022.5 626.8M1072.9 565L1073.9 526L1074.9 565M816 546L817 527L818 546M887 634.7L888 602L889 634.7M910.5 651.1L911.5 599L912.5 651.1M958 642.8L959 596L960 642.8M1011 628L1012 596L1013 628M1029 624.5L1030 598L1031 624.5"/>
<path stroke-width="2.2" d="M916.5 660.5L917.5 684L918.5 660.5M912.5 649.4L913.5 676L914.5 649.4M870.5 635.9L871.5 656L872.5 635.9M884 627.8L885 664L886 627.8M956.5 637.2L957.5 662L958.5 637.2M837 617.8L838 645L839 617.8M808.5 563.2L809.5 583L810.5 563.2M1043 620.9L1044 645L1045 620.9"/>
<path fill="#231f20" stroke-width="0.5" d="M1083.7 595.3L1084.4 600.9L1085.6 600.9L1086.3 614.2L1086.8 615.6L1087.6 609.5L1088.1 610.7L1089.8 601.1L1090.3 603L1091 600.3L1091.5 593.6L1091.9 583.3L1093.1 583.3L1093.5 596.5L1094 602.8L1095.2 602.5L1095.7 599.7L1096.5 594.2L1097.7 594.2L1098.5 596.5L1098.9 597.9L1101 588.2L1101.5 585.8L1103.2 571.9L1103.6 571.8L1104.3 562.3L1105.5 562.3L1106.2 573L1106.7 575.1L1108 580.5L1108.4 579.5L1109.2 575L1110.4 575L1111.2 580.6L1111.6 581.6L1112.3 580.7L1112.8 580.3L1113.3 573.4L1114.5 573.4L1115.1 575L1115.6 573L1117.6 567.4L1118.1 568.8L1118.6 566.7L1119.1 566.1L1120.3 562.4L1120.8 566.6L1122.5 563.9L1122.9 559.8L1123.6 555.3L1124.8 555.3L1125.5 564.5L1126 566.5L1126.9 562.8L1127.4 561.5L1128.5 556.4L1129 558.2L1131.1 552.1L1131.6 550.8L1132.2 542.7L1133.4 542.7L1134 545.4L1134.5 548L1136 546.1L1136.5 541.8L1138.1 542.3L1138.5 542.9L1138.9 537.4L1140.1 537.4L1140.5 546L1141 550.3L1141.6 549.9L1142.1 546.7L1142.7 539.5L1143.9 539.5L1144.5 543.8L1145 541.9L1145.7 541.1L1146.1 540.1L1146.6 528.8L1147.8 528.8L1148.3 538.2L1148.8 542.4L1150.8 546.8L1151.3 545.2L1153.4 556L1153.8 557.5L1154.3 557.3L1155.5 557.3L1155.9 556.2L1156.4 554.8L1157.6 542.1L1158.1 540.1L1158.6 522.2L1159.8 522.2L1160.4 524.1L1160.9 525.7L1162.9 523.8L1163.4 520.2L1164.1 505.2L1165.3 505.2L1166.1 512.3L1166.5 517.6L1167.1 515.2L1167.6 513.3L1168.3 510.8L1168.8 513.6L1170.2 510.8L1170.7 507L1172 507.2L1172.5 509.7L1174.4 510.6L1174.9 512.8L1175.9 511.8L1176.4 512.5L1178.4 513.5L1178.9 507L1179.4 497.4L1180.6 497.4L1181.1 509.4L1181.5 513.8L1183.6 520.3L1184.1 520.2L1184.9 522.8L1185.4 519.5L1187.3 540.5L1187.7 542.5L1188.2 554.2L1189.4 554.2L1189.9 570.8L1190.4 569.2L1191.7 574.4L1192.2 575.1L1194.1 564.2L1194.5 566.2L1195.2 554.5L1196.4 554.5L1197.2 554.3L1197.6 555.3L1199.2 551.8L1199.7 547.8L1200.7 545.5L1201.2 548.2L1202 541.3L1203.2 541.3L1203.9 541.7L1204.4 540.4L1206.4 532.6L1206.9 532.1L1207.2 523L1208.4 523L1208.7 526.9L1209.1 527.5L1210.1 525.2L1210.6 528L1211.3 526.3L1211.8 526.2L1212.4 523.6L1212.9 520.1L1214.1 517.9L1214.6 518.4L1215 511.9L1216.2 511.9L1216.5 516.2L1217 517.7L1218.1 512.3L1218.6 514.1L1220.2 508L1220.7 503.9L1222.3 499.3L1222.8 499.7L1223.9 497.2L1224.3 492.6L1225.1 483.8L1226.3 483.8L1227 510.6L1227.5 519.7L1229.4 539.9L1229.9 537.6L1231 547L1231.5 544.8L1232.2 543.8L1233.4 543.8L1234.2 555.8L1234.7 559.9L1236.2 564L1236.7 559.2L1237.3 559.2L1237.8 563.7L1238.9 558.9L1239.3 556.3L1240.1 546.8L1241.3 546.8L1242 550L1242.5 547.8L1244.5 543.2L1245 547.3L1245.9 542.7L1246.3 538.1L1246.9 526.3L1248.1 526.3L1248.8 532.6L1249.2 536.1L1250.2 532.3L1250.7 533.2L1252.3 524.5L1252.8 521.2L1253.5 515.9L1254 515.8L1256.1 507.8L1256.6 511.9L1258.3 503.8L1258.8 499.3L1260.6 499L1261.1 497L1261.5 486.6L1262.7 486.6L1263 498.9L1263.5 505.9L1264.9 511.9L1265.4 507.3L1266 502.6L1267.2 502.6L1267.8 510.1L1268.3 509.4L1269.7 509.5L1270.2 510.9L1270.9 504.8L1272.1 504.8L1272.8 511.7L1273.3 510.1L1274.3 511.6L1274.8 514.5L1275.4 516L1275.9 513.7L1276.4 515.2L1276.9 520.3L1278.4 523.1L1278.9 520.9L1280.1 524.2L1280.6 524.6L1281.7 524.2L1282.2 520.6L1284 513.6L1284.5 516.9L1285.5 511.8L1286 509L1287.9 513.8L1288.4 517.6L1290 517.9L1290.5 514.9L1291.2 512.5L1291.7 511.4L1292.4 501.1L1293.6 501.1L1294.2 504.3L1294.7 509L1295.5 504.6L1296 503.5L1297.9 499.3L1298.4 498.7L1299 498L1299.5 494.8L1299.5 487.1L1300.7 487.1L1300.8 496.2L1300.8 515.7L1301 519.3L1299.8 519.3L1300 514.5L1299.5 512L1298.1 512.9L1297.6 515.1L1296 518.6L1295.6 519.9L1295 530.4L1293.8 530.4L1293.2 529.2L1292.7 529.8L1291 533.6L1290.5 532.9L1289.7 535.3L1289.2 534.2L1288.4 535.4L1287.2 535.4L1286.4 527.5L1286 525.7L1284.2 532.4L1283.7 536L1282.1 542L1281.6 539.2L1280.9 539.7L1280.4 541.6L1278.4 537.2L1277.9 537.3L1276.2 534.5L1275.7 534.2L1275 537L1273.8 537L1273 530.6L1272.6 528.1L1271.9 527.8L1271.4 531.2L1270.1 530.8L1269.6 529.5L1268.7 529.4L1268.2 529.9L1266.7 530.1L1266.2 529.7L1264.2 522.7L1263.8 522.9L1263 525.3L1261.8 525.3L1261.1 519L1260.6 517.8L1259.7 516.8L1259.2 517.1L1258.5 519.2L1258 519.4L1257.4 523.3L1257 522.5L1256.4 531.3L1255.2 531.3L1254.6 532.4L1254.1 534.2L1252.2 544.3L1251.7 544.2L1251.2 554.8L1250 554.8L1249.5 552.6L1249.1 550.9L1248.2 554L1247.7 553.2L1247.1 555.2L1246.6 556.8L1245.9 559.6L1245.5 558.9L1244.9 566.2L1243.7 566.2L1243.2 565.9L1242.7 564.4L1241.6 565.8L1241.1 568.6L1240.8 575.8L1239.6 575.8L1239.3 574.5L1238.8 574.1L1238.2 577.9L1237.7 577.7L1237.4 582.7L1236.2 582.7L1235.8 577.1L1235.3 576.7L1233.9 571.6L1233.4 572.5L1231.7 564.7L1231.2 561.5L1230.3 554.3L1229.8 556L1229.3 548.4L1228.8 548.6L1227.8 535.4L1227.3 538.2L1226.7 533.2L1225.5 533.2L1224.8 518.2L1224.4 515.5L1222.6 518L1222.1 517.3L1221 520.8L1220.6 524.1L1220.1 534.5L1218.9 534.5L1218.4 531.5L1218 531.3L1217.2 535.5L1216.7 531.7L1215.6 534.5L1215.1 535.1L1213.2 536.5L1212.7 535.8L1211.3 540.3L1210.9 542L1210.2 546.5L1209 546.5L1208.3 547L1207.8 548.8L1206.2 553.8L1205.7 552L1205.2 560.2L1204 560.2L1203.4 560.6L1203 562.7L1201.4 566.2L1201 565.5L1200.5 573.1L1199.3 573.1L1198.8 569.5L1198.4 567.1L1196.9 570.7L1196.4 570.4L1194.3 582.4L1193.8 582.4L1192.6 590.9L1192.1 592.8L1191.1 591.9L1190.6 590.7L1189.9 583.6L1189.4 584.1L1188.8 571.8L1187.6 571.8L1187 550.3L1186.5 548.6L1185.1 536.1L1184.6 535.8L1183.9 533.4L1183.5 535.8L1182.7 535.4L1181.5 535.4L1180.7 528L1180.3 526.2L1178.2 525.2L1177.8 526.7L1177 529.3L1175.8 529.3L1175.1 526.8L1174.7 529.1L1172.7 528.6L1172.2 524.4L1171.2 523.5L1170.7 527.8L1169 530.6L1168.5 528.7L1166.6 533.9L1166.1 531.4L1164.3 538.2L1163.8 539.6L1162.9 540.6L1162.4 541.6L1160.5 545.3L1160 545.1L1159.5 556.4L1158.3 556.4L1157.7 562.4L1157.2 560.3L1156.2 571.6L1155.7 572L1153.6 570.7L1153.2 573.6L1152.8 573.4L1151.6 573.4L1151.2 563.8L1150.7 560.7L1149.1 556.6L1148.6 559.5L1147.3 560L1146.8 561.3L1144.7 563.5L1144.3 563.6L1143.7 571.9L1142.5 571.9L1142 566.3L1141.5 566.4L1140.2 565.7L1139.7 562L1138.9 560.2L1138.5 561.7L1138.1 565.3L1136.9 565.3L1136.4 561L1136 561.5L1134.9 562.7L1134.4 562.9L1132.9 566.4L1132.4 563.1L1130.5 568.3L1130 568.4L1128.9 572.1L1128.4 572.3L1127.3 577.5L1126.8 581.6L1126.3 591.6L1125.1 591.6L1124.7 583.4L1124.2 581.9L1122.3 578.8L1121.8 576.8L1121.2 578.4L1120.8 581.6L1120.4 590.3L1119.2 590.3L1118.8 587.1L1118.3 585.8L1116.9 589.2L1116.4 588.9L1114.4 595.6L1113.9 596.1L1111.9 598.9L1111.4 600.6L1109.6 601.4L1109.2 598.9L1108.8 600.4L1107.6 600.4L1107.1 593.2L1106.7 595.4L1104.9 590.8L1104.5 590L1103.8 598.6L1102.6 598.6L1101.9 603.2L1101.5 601.2L1100.8 607.4L1100.3 607.4L1098.9 613.8L1098.4 616.2L1096.7 620L1096.2 617.9L1094.3 617.5L1093.8 617.5L1092.7 615.8L1092.2 618.1L1091.1 617.5L1090.6 615.9L1089.2 622.7L1088.7 623.7L1087.2 633.3L1086.7 633.2L1086.3 640.1L1085.1 640.1L1084.8 625.2L1084.3 624.4L1083.8 615.2Z"/>
<path stroke-width="2.2" d="M1154 562.4L1155 594L1156 562.4M1190.6 582L1191.6 594L1192.6 582M1236.8 567L1237.8 587L1238.8 567"/>
<path fill="#231f20" stroke-width="0.5" d="M1300.2 509.5L1300.5 503.3L1301.7 503.3L1302 511.1L1302.5 512.9L1304.3 514L1304.8 513.4L1305.9 515.4L1306.4 514.6L1307.8 514.7L1308.3 513.3L1310.4 511.2L1310.9 513L1311.5 506.5L1312.7 506.5L1313.2 511.8L1313.7 514L1314.9 514.9L1315.4 510.1L1317.7 510L1318.2 508.8L1319 498.3L1320.2 498.3L1321 507.6L1321.4 513.1L1322.9 512.2L1323.4 509L1324.2 509.3L1324.6 510.4L1325.4 506.6L1326.6 506.6L1327.4 511.7L1327.8 512.4L1328.8 513.9L1329.3 511L1330.4 511.2L1330.9 515.5L1331.8 514.1L1332.3 511.2L1334.2 510.7L1334.7 512.7L1336.8 511.9L1337.2 506.7L1338 498.3L1339.2 498.3L1339.9 506.7L1340.4 507.1L1341.2 507L1341.7 506.8L1343.5 505.5L1343.9 501.8L1344.7 489.4L1345.9 489.4L1346.7 499.5L1347.1 500.4L1348.8 501.1L1349.3 501.8L1350.9 501.1L1351.4 498.9L1352 489.6L1353.2 489.6L1353.8 496L1354.2 499.9L1356.2 500L1356.7 498.1L1357.5 498.5L1358 495.3L1359.2 495L1359.6 493.7L1360.3 485.8L1361.5 485.8L1362.3 490.9L1362.7 491.5L1364.6 493.1L1365.1 489.5L1365.9 490.5L1366.3 492.4L1366.7 488.5L1367.9 488.5L1368.2 494.3L1368.7 493.4L1370.7 494.9L1371.1 495.1L1371.6 485.8L1372.8 485.8L1373.2 497.8L1373.6 500.8L1374.8 502.7L1374.8 539.8L1375.2 542.8L1374 542.8L1374.4 539L1373.9 539.6L1372.6 537.3L1372.1 539.6L1371.8 543.5L1370.6 543.5L1370.3 537.3L1369.9 535.5L1368.8 535L1368.3 538L1366.3 535.9L1365.8 536.7L1364.2 535.1L1363.8 532.6L1363.1 534.4L1361.9 534.4L1361.3 533.1L1360.8 532.2L1359.9 533.5L1359.4 531.7L1358 532L1357.5 534.9L1356.8 541L1355.6 541L1355 534.1L1354.5 532.6L1353.6 533.6L1353.1 531.2L1351.5 533.3L1351 532L1348.8 532.6L1348.4 534.4L1347.9 539.8L1346.7 539.8L1346.3 534.4L1345.8 532.6L1344.9 533.5L1344.4 531.5L1343.7 536.1L1342.5 536.1L1341.7 533.9L1341.2 534.8L1340.4 534.8L1339.9 533.4L1338.7 533.3L1338.2 532.3L1336.2 532.9L1335.8 534.8L1335.1 541.4L1333.9 541.4L1333.2 535.2L1332.8 532.9L1331.9 533.8L1331.4 533.4L1330.9 537.7L1329.7 537.7L1329.2 534.1L1328.7 534.4L1327.9 533.1L1327.4 533.4L1326.7 536.8L1325.5 536.8L1324.8 532L1324.4 532.1L1322.7 531.7L1322.2 528.9L1321.3 529.9L1320.8 530.3L1319.5 531.3L1319 532.4L1316.9 532.6L1316.4 530.9L1314.1 530.3L1313.6 531.2L1313.3 533L1312.1 533L1311.7 531.3L1311.3 532L1309.3 534.3L1308.8 536.1L1308.1 543.5L1306.9 543.5L1306.2 536.6L1305.7 534.8L1305 532.9L1304.5 531.7L1302.9 530.8L1302.5 533.2L1301.9 538.4L1300.7 538.4L1300.2 531.3Z"/>
<path stroke-width="2.9" d="M1263.7 520V548.3M1273.3 520V553.3M1278.5 520V548.7M1302.5 520V555.7M1307.4 520V553.3M1311.5 520V552.2M1316.3 520V555M1322.2 520V557M1326.3 520V550.5M1331.7 520V552.6M1335.8 520V557.8M1340.4 520V556.8M1346.6 520V552.5M1351.2 520V552.3M1354.4 520V556.3M1362.6 520V549.8M1368.5 520V550.1M1372.4 520V554.1M1173 520V553M1220.8 520V549M1084.6 560L1085.8 630"/>
</g>
<g fill="#231f20" font-family="'Liberation Sans', sans-serif" font-size="32.5" style="font-kerning:none">
<text x="37.8" y="86.6" letter-spacing="0.30">Neuron</text>
<text x="38.3" y="126.6" letter-spacing="0.15">voltage</text>
<text x="38" y="384.4" letter-spacing="0.42">Neuron</text>
<text x="38.1" y="424.4" letter-spacing="0.32">current</text>
<text x="39.5" y="586.6" letter-spacing="0.07">Glial</text>
<text x="39.5" y="626.6" letter-spacing="-1.00">Ca</text>
<text x="82.1" y="617.9" font-size="24">2</text>
<text x="95.4" y="619.6" font-size="23.5">+</text>
<text x="484" y="124.7">2</text>
<text x="509" y="124.7" letter-spacing="-0.90">mV</text>
<text x="474.2" y="434.7" letter-spacing="0.30">20</text>
<text x="518.1" y="434.7" letter-spacing="-1.00">pA</text>
<text x="410.3" y="681" letter-spacing="-0.05">10%</text>
<text x="484.8" y="681" font-family="'Liberation Serif', serif">Δ</text>
<text x="507.8" y="681" font-style="italic">F</text>
<text x="526.5" y="681" font-style="italic">/</text>
<text x="537" y="681" font-style="italic">F</text>
<text x="325.4" y="721">5</text>
<text x="348.7" y="721">s</text>
<text x="8.8" y="781.1" font-size="34">a</text>
<text x="107.7" y="780.8">A</text>
<text x="130.3" y="780.8">T</text>
<text x="151.4" y="780.8">P</text>
<text x="174.9" y="780.8" font-family="'Liberation Serif', serif" stroke="#231f20" stroke-width="0.45" font-style="italic" font-size="35.5">γ</text>
<text x="191.6" y="780.8">S</text>
<text x="651.9" y="780.9" font-size="34">b</text>
<text x="752.7" y="780.9">A</text>
<text x="775.3" y="780.9">T</text>
<text x="796.4" y="780.9">P</text>
<text x="819.9" y="780.9" font-family="'Liberation Serif', serif" stroke="#231f20" stroke-width="0.45" font-style="italic" font-size="35.5">γ</text>
<text x="836.6" y="780.9">S</text>
<text x="1237" y="635.7" letter-spacing="-1.20">10</text>
<text x="1279" y="635.7" letter-spacing="-1.20">mV</text>
<text x="1159.8" y="713.8">5</text>
<text x="1183.1" y="713.8">s</text>
</g>
</svg>
</body></html>
